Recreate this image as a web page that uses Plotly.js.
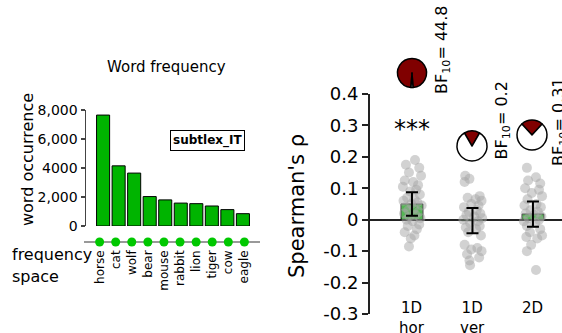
<!DOCTYPE html>
<html>
<head>
<meta charset="utf-8">
<script src="https://cdn.plot.ly/plotly-3.0.1.min.js"></script>
<style>html,body{margin:0;padding:0;background:#fff;}#chart{width:562px;height:333px;}</style>
</head>
<body>
<div id="chart"></div>
<script>
// ---- Data: word frequency panel ----
const words = ["horse", "cat", "wolf", "bear", "mouse", "rabbit", "lion", "tiger", "cow", "eagle"];
const occurrences = [7650, 4150, 3650, 2030, 1800, 1580, 1540, 1380, 1130, 850];
const occTickVals = [0, 2000, 4000, 6000, 8000];
const occTickText = ["0", "2,000", "4000", "6,000", "8,000"];

// ---- Data: correlation panel ----
const conditions = ["1D<br>hor", "1D<br>ver", "2D"];
const condPos = [1, 2, 3];
const rhoHor = [0.19, 0.175, 0.165, 0.15, 0.14, 0.125, 0.12, 0.11, 0.105, 0.095, 0.09, 0.08, 0.07, 0.065, 0.06, 0.055, 0.05, 0.045, 0.04, 0.035, 0.03, 0.025, 0.02, 0.015, 0.01, 0.005, 0.0, -0.005, -0.015, -0.02, -0.03, -0.04, -0.05, -0.06, -0.085];
const jitHor = [0.05, -0.1, 0.12, -0.05, 0.15, -0.12, 0.02, 0.1, -0.15, 0.07, -0.03, 0.13, -0.08, 0.04, -0.14, 0.09, -0.01, 0.16, -0.11, 0.03, -0.06, 0.11, -0.13, 0.06, -0.04, 0.14, -0.09, 0.01, 0.12, -0.07, 0.08, -0.12, 0.04, -0.02, -0.05];
const rhoVer = [0.14, 0.13, 0.12, 0.075, 0.07, 0.065, 0.06, 0.05, 0.045, 0.04, 0.03, 0.025, 0.02, 0.015, 0.01, 0.005, 0.0, -0.005, -0.01, -0.02, -0.025, -0.03, -0.04, -0.05, -0.08, -0.09, -0.095, -0.1, -0.11, -0.12, -0.13, -0.145];
const jitVer = [-0.12, -0.05, -0.13, 0.12, -0.08, 0.05, 0.15, -0.02, 0.1, -0.14, 0.07, -0.06, 0.13, -0.1, 0.03, 0.16, -0.15, 0.09, -0.04, 0.12, -0.11, 0.06, -0.07, 0.14, -0.13, 0.08, -0.02, 0.15, -0.09, 0.11, -0.05, -0.04];
const rhoTwoD = [0.165, 0.135, 0.125, 0.115, 0.1, 0.095, 0.085, 0.075, 0.065, 0.05, 0.045, 0.04, 0.03, 0.025, 0.02, 0.015, 0.01, 0.005, 0.0, -0.005, -0.01, -0.02, -0.03, -0.04, -0.05, -0.055, -0.06, -0.08, -0.1, -0.16];
const jitTwoD = [-0.1, 0.05, -0.08, 0.12, -0.13, 0.1, -0.02, 0.15, -0.09, 0.06, -0.14, 0.13, -0.04, 0.08, -0.12, 0.02, 0.14, -0.07, 0.1, -0.15, 0.04, -0.1, 0.12, -0.05, 0.15, -0.11, 0.07, -0.03, -0.1, 0.05];
const meanRho = [0.05, -0.003, 0.018];
const semRho = [0.037, 0.04, 0.04];
const bf10 = [44.8, 0.2, 0.31];
const bfLabels = ["44.8", "0.2", "0.31"];
const yTickVals = [-0.3, -0.2, -0.1, 0, 0.1, 0.2, 0.3, 0.4];
const yTickText = ["-0.3", "-0.2", "-0.1", "0", "0.1", "0.2", "0.3", "0.4"];

const W = 562, H = 333;
const px = x => x / W;
const py = y => 1 - y / H;
const FONT = "DejaVu Sans, Verdana, sans-serif";

const traces = [];
// bar chart
traces.push({
  type: "bar", x: words, y: occurrences, xaxis: "x", yaxis: "y",
  marker: {color: "#00b400", line: {color: "#000", width: 1}},
  hoverinfo: "none", showlegend: false
});
// frequency space dots
traces.push({
  type: "scatter", mode: "markers", x: words, y: words.map(() => 0),
  xaxis: "x3", yaxis: "y3",
  marker: {color: "#00c800", size: 9}, hoverinfo: "none", showlegend: false
});
// mean bars (drawn in bar layer, under the points)
traces.push({
  type: "bar", x: condPos, y: meanRho, xaxis: "x2", yaxis: "y2", width: 0.36,
  marker: {color: "#00c800", line: {color: "#000", width: 1}},
  hoverinfo: "none", showlegend: false
});
// scattered individual points
const groups = [[rhoHor, jitHor], [rhoVer, jitVer], [rhoTwoD, jitTwoD]];
groups.forEach((g, i) => {
  traces.push({
    type: "scatter", mode: "markers",
    x: g[1].map(j => condPos[i] + j), y: g[0],
    xaxis: "x2", yaxis: "y2",
    marker: {color: "rgba(165,165,165,0.5)", size: 10},
    hoverinfo: "none", showlegend: false
  });
});
// error bars
traces.push({
  type: "scatter", mode: "markers", x: condPos, y: meanRho, xaxis: "x2", yaxis: "y2",
  marker: {size: 1, color: "rgba(0,0,0,0)"},
  error_y: {type: "data", array: semRho, visible: true, color: "#000", thickness: 2, width: 6},
  hoverinfo: "none", showlegend: false
});
// pies
const pieCenters = [[412, 73], [472, 146], [532, 135]];
const pieR = [14.5, 15, 15];
bf10.forEach((b, i) => {
  const p = b / (1 + b);
  const [cx, cy] = pieCenters[i];
  const r = pieR[i];
  traces.push({
    type: "pie", values: [p, 1 - p], sort: false, direction: "clockwise",
    rotation: -p * 180,
    marker: {colors: ["#800000", "#ffffff"], line: {color: "#000", width: 1.5}},
    textinfo: "none", hoverinfo: "none", showlegend: false,
    domain: {x: [px(cx - r), px(cx + r)], y: [py(cy + r), py(cy - r)]}
  });
});

const annotations = [];
annotations.push({xref: "paper", yref: "paper", x: px(166), y: py(67), text: "Word frequency",
  showarrow: false, font: {family: FONT, size: 15, color: "#000"}, xanchor: "center", yanchor: "middle"});
annotations.push({xref: "paper", yref: "paper", x: px(208), y: py(140), text: "<b>subtlex_IT</b>",
  showarrow: false, font: {family: FONT, size: 12, color: "#000"}, bordercolor: "#000", borderwidth: 1,
  borderpad: 2, bgcolor: "#fff", xanchor: "center", yanchor: "middle"});
annotations.push({xref: "paper", yref: "paper", x: px(10), y: py(255), text: "frequency",
  showarrow: false, font: {family: FONT, size: 16, color: "#000"}, xanchor: "left", yanchor: "middle"});
annotations.push({xref: "paper", yref: "paper", x: px(10), y: py(276), text: "space",
  showarrow: false, font: {family: FONT, size: 16, color: "#000"}, xanchor: "left", yanchor: "middle"});
annotations.push({xref: "paper", yref: "paper", x: px(27), y: py(160), text: "word occurrence",
  textangle: -90, showarrow: false, font: {family: FONT, size: 16, color: "#000"},
  xanchor: "center", yanchor: "middle"});
annotations.push({xref: "paper", yref: "paper", x: px(297), y: py(206), text: "Spearman's ρ",
  textangle: -90, showarrow: false, font: {family: FONT, size: 21, color: "#000"},
  xanchor: "center", yanchor: "middle"});
annotations.push({xref: "paper", yref: "paper", x: px(412), y: py(129), text: "***",
  showarrow: false, font: {family: FONT, size: 24, color: "#000"}, xanchor: "center", yanchor: "middle"});
conditions.forEach((c, i) => {
  annotations.push({xref: "x2", yref: "paper", x: condPos[i], y: py(297), text: c,
    showarrow: false, font: {family: FONT, size: 15, color: "#000"}, xanchor: "center", yanchor: "top"});
});
const bfText = [[430, 96], [489, 162], [547, 168]];
bfLabels.forEach((l, i) => {
  annotations.push({xref: "paper", yref: "paper", x: px(bfText[i][0]), y: py(bfText[i][1]),
    text: "BF<sub>10</sub>= " + l, textangle: -90, showarrow: false,
    font: {family: FONT, size: 16, color: "#000"}, xanchor: "left", yanchor: "bottom"});
});

const layout = {
  width: W, height: H, margin: {l: 0, r: 0, t: 0, b: 0},
  paper_bgcolor: "#fff", plot_bgcolor: "rgba(0,0,0,0)",
  font: {family: FONT, color: "#000"},
  showlegend: false, bargap: 0.16,
  xaxis: {domain: [px(86), px(260)], anchor: "y", type: "category", categoryorder: "array",
    categoryarray: words, range: [-1.1, 10.1], showticklabels: false, ticks: "", showline: false,
    showgrid: false, zeroline: false, fixedrange: true},
  yaxis: {domain: [py(226), py(110)], anchor: "x", range: [0, 8000], tickvals: occTickVals,
    ticktext: occTickText, ticks: "outside", ticklen: 4, tickwidth: 1.5, tickcolor: "#444",
    showline: true, linecolor: "#444", linewidth: 1.5, showgrid: false, zeroline: false,
    tickfont: {family: FONT, size: 14, color: "#000"}},
  xaxis3: {domain: [px(84), px(260)], anchor: "y3", type: "category", categoryorder: "array",
    categoryarray: words, range: [-0.97, 9.97], tickangle: -90, ticks: "", showline: false,
    showgrid: false, zeroline: false, tickfont: {family: FONT, size: 12, color: "#000"}},
  yaxis3: {domain: [py(247), py(237)], anchor: "x3", range: [-1, 1], showticklabels: false,
    ticks: "", showgrid: false, zeroline: true, zerolinecolor: "#999", zerolinewidth: 1.5,
    showline: false},
  xaxis2: {domain: [px(370), 1], anchor: "y2", range: [0.306, 3.48], showticklabels: false,
    ticks: "", showline: false, showgrid: false, zeroline: false},
  yaxis2: {domain: [py(314), py(94)], anchor: "x2", range: [-0.3, 0.4], tickvals: yTickVals,
    ticktext: yTickText, ticks: "outside", ticklen: 6, tickwidth: 2, tickcolor: "#222",
    showline: true, linecolor: "#222", linewidth: 2, showgrid: false,
    zeroline: true, zerolinecolor: "#222", zerolinewidth: 2,
    tickfont: {family: FONT, size: 18, color: "#000"}},
  annotations: annotations
};

Plotly.newPlot("chart", traces, layout, {displayModeBar: false, staticPlot: true});
</script>
</body>
</html>
